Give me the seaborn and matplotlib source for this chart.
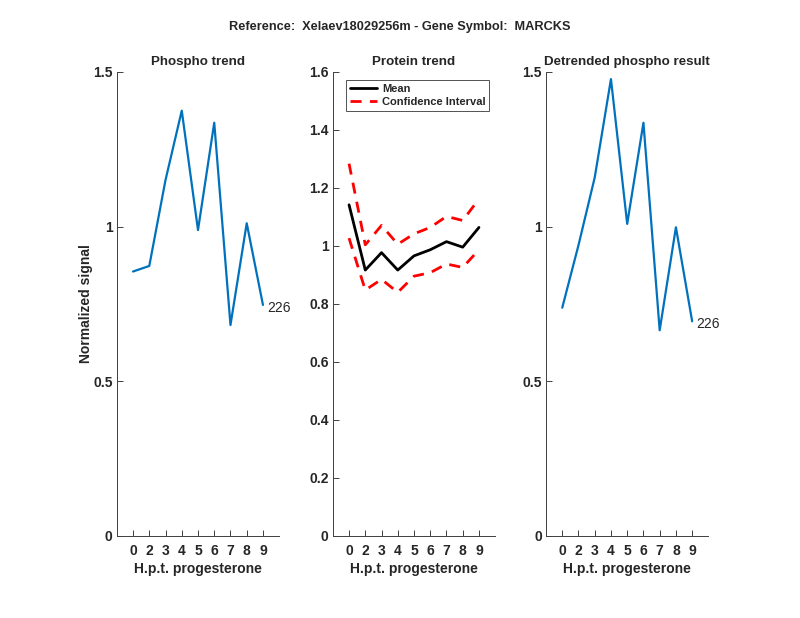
import numpy as np
import pandas as pd
import seaborn as sns
import matplotlib
matplotlib.use("Agg")
import matplotlib.pyplot as plt
from matplotlib.ticker import FormatStrFormatter

# time points (h.p.t. progesterone) shown as tick labels
hpt_labels = ["0", "2", "3", "4", "5", "6", "7", "8", "9"]
positions = list(range(1, 10))

phospho = [0.855, 0.873, 1.151, 1.375, 0.989, 1.336, 0.682, 1.011, 0.747]
protein_mean = [1.142, 0.917, 0.977, 0.917, 0.966, 0.987, 1.015, 0.996, 1.064]
protein_upper = [1.284, 1.004, 1.071, 1.006, 1.042, 1.064, 1.102, 1.088, 1.162]
protein_lower = [1.027, 0.848, 0.885, 0.840, 0.896, 0.908, 0.938, 0.926, 0.987]
detrended = [0.738, 0.940, 1.159, 1.477, 1.009, 1.336, 0.665, 0.998, 0.694]
site_id = "226"

sns.set_style("ticks")
plt.rcParams['font.family'] = ['Liberation Sans', 'DejaVu Sans']

blue = "#0072BD"
axcol = "#404040"
txtcol = "#262626"

fig = plt.figure(figsize=(8, 6.18), dpi=100)
left_x = [0.146, 0.416, 0.6825]
axes = [fig.add_axes([lx, 0.1327, 0.203, 0.7508]) for lx in left_x]


def style_axis(ax, ylim, yticks):
  ax.set_xlim(0, 10)
  ax.set_ylim(*ylim)
  ax.set_xticks(positions)
  ax.set_xticklabels(hpt_labels)
  ax.set_yticks(yticks)
  ax.yaxis.set_major_formatter(FormatStrFormatter('%g'))
  for side in ["top", "right"]:
    ax.spines[side].set_visible(False)
  for side in ["left", "bottom"]:
    ax.spines[side].set_color(axcol)
    ax.spines[side].set_linewidth(0.7)
  ax.tick_params(direction="in", length=4, width=0.7, color=axcol,
                 labelsize=10)
  ax.tick_params(axis="x", pad=6)
  ax.tick_params(axis="y", pad=3)
  for lab in ax.get_xticklabels() + ax.get_yticklabels():
    lab.set_fontweight("bold")
    lab.set_color(txtcol)
  ax.set_xlabel("H.p.t. progesterone", fontsize=10, fontweight="bold",
                color=txtcol, labelpad=3)


# Phospho trend
ax = axes[0]
sns.lineplot(x=positions, y=phospho, ax=ax, color=blue, linewidth=1.6)
style_axis(ax, (0, 1.5), [0, 0.5, 1, 1.5])
ax.set_title("Phospho trend", fontsize=9.6, fontweight="bold", pad=5)
ax.set_ylabel("Normalized signal", fontsize=10, fontweight="bold",
              color=txtcol, labelpad=0)
ax.annotate(site_id, (positions[-1], phospho[-1]), xytext=(3, -2),
            textcoords="offset points", ha="left", va="center", fontsize=10)

# Protein trend
ax = axes[1]
df = pd.DataFrame({"x": positions, "mean": protein_mean,
                   "upper": protein_upper, "lower": protein_lower})
sns.lineplot(data=df, x="x", y="mean", ax=ax, color="black", linewidth=2,
             label="Mean")
sns.lineplot(data=df, x="x", y="upper", ax=ax, color="red", linewidth=2,
             label="Confidence Interval")
sns.lineplot(data=df, x="x", y="lower", ax=ax, color="red", linewidth=2)
for line in ax.lines[1:]:
  line.set_linestyle((0, (4, 3)))
style_axis(ax, (0, 1.6), [0, 0.2, 0.4, 0.6, 0.8, 1, 1.2, 1.4, 1.6])
ax.set_title("Protein trend", fontsize=9.6, fontweight="bold", pad=5)
ax.set_ylabel("")
leg = ax.legend(loc="upper left", fontsize=8, frameon=True, fancybox=False,
                handlelength=2.5, handletextpad=0.4, borderpad=0.35,
                labelspacing=0.3, borderaxespad=0,
                bbox_to_anchor=(0.08, 0.983))
leg.get_frame().set_edgecolor(txtcol)
leg.get_frame().set_linewidth(0.7)
for t in leg.get_texts():
  t.set_fontweight("bold")
leg.get_lines()[1].set_linestyle((0, (4, 3)))

# Detrended phospho result
ax = axes[2]
sns.lineplot(x=positions, y=detrended, ax=ax, color=blue, linewidth=1.6)
style_axis(ax, (0, 1.5), [0, 0.5, 1, 1.5])
ax.set_title("Detrended phospho result", fontsize=9.6, fontweight="bold", pad=5)
ax.annotate(site_id, (positions[-1], detrended[-1]), xytext=(3, -2),
            textcoords="offset points", ha="left", va="center", fontsize=10)

fig.suptitle("Reference:  Xelaev18029256m - Gene Symbol:  MARCKS",
             fontsize=9.2, fontweight="bold", y=0.956, va="center")

fig.savefig("out.png", dpi=100)
